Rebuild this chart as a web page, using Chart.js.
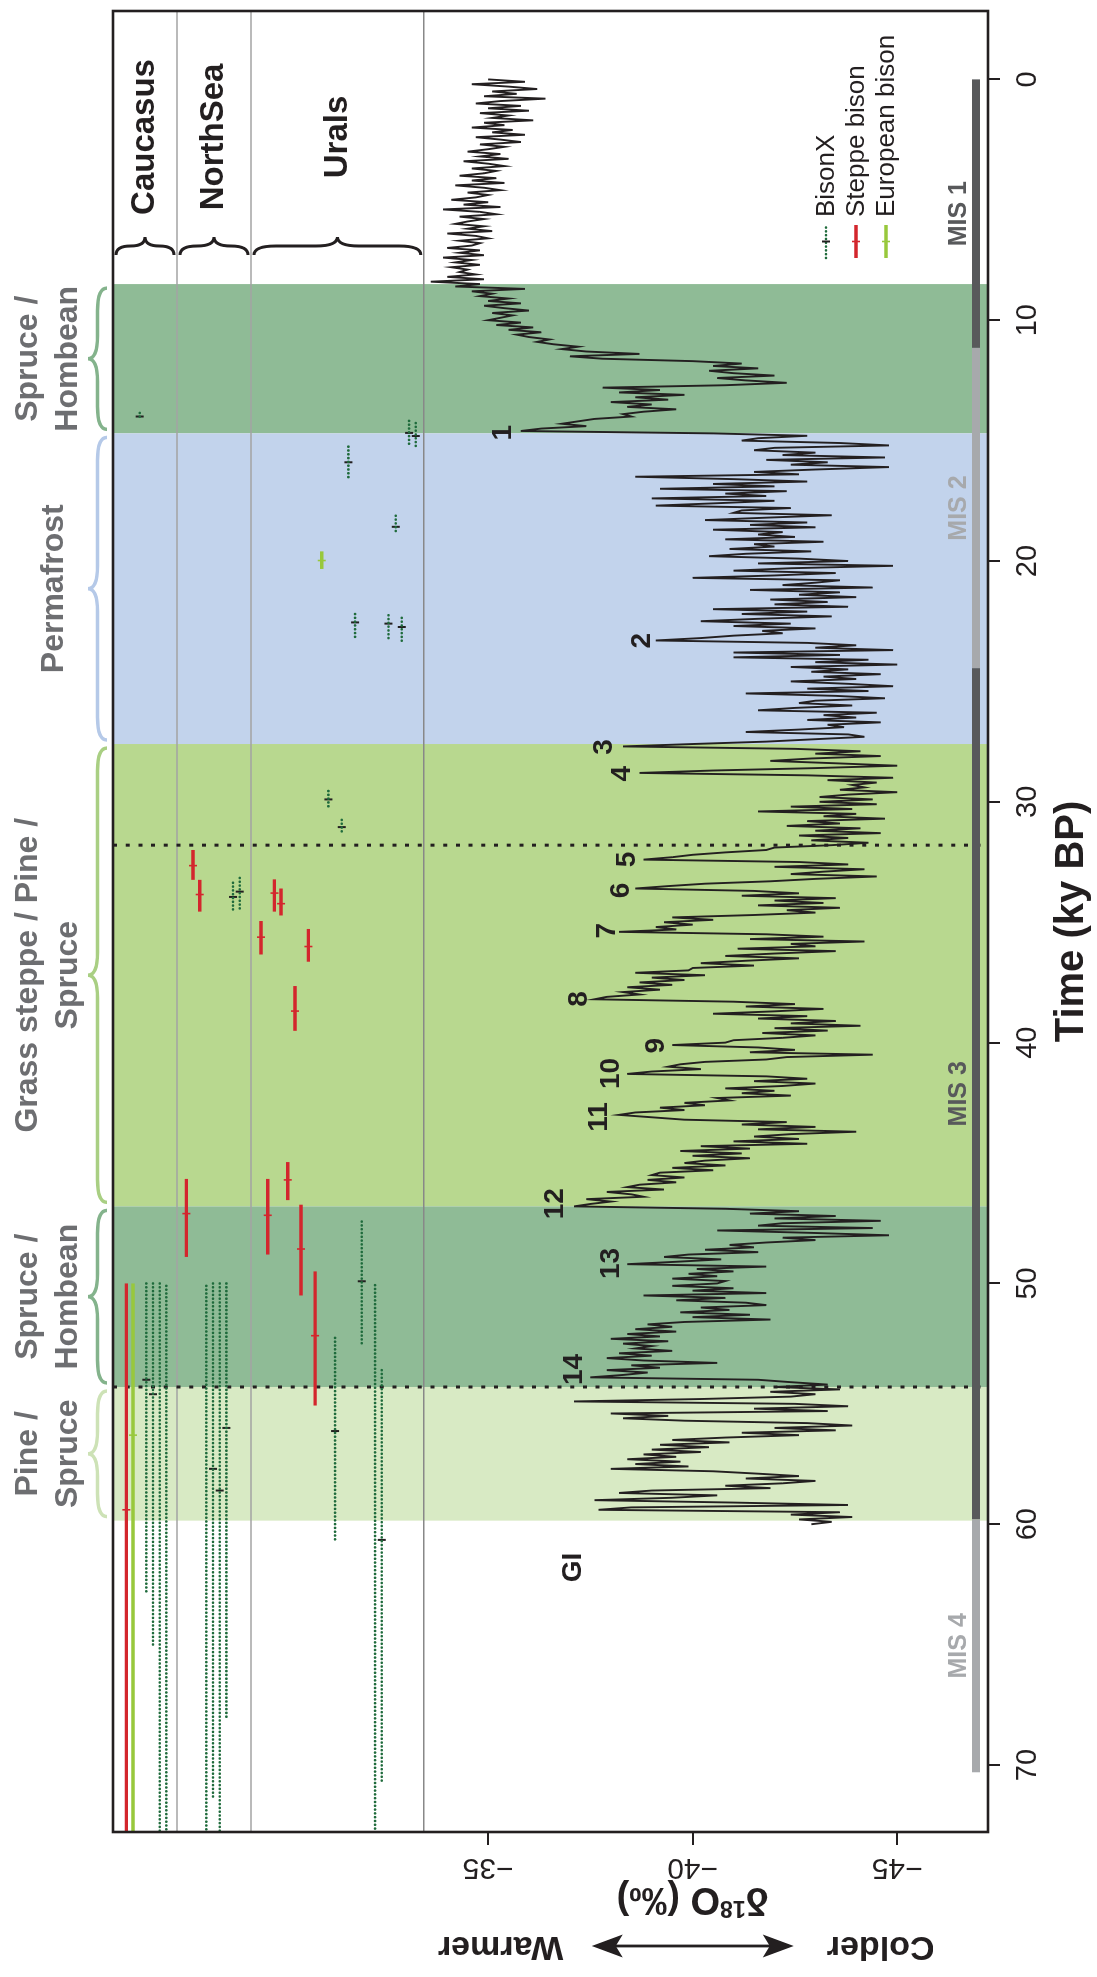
<!DOCTYPE html>
<html>
<head>
<meta charset="utf-8">
<script src="https://cdn.jsdelivr.net/npm/chart.js@4.4.1/dist/chart.umd.min.js"></script>
<style>
  html, body { margin: 0; padding: 0; background: #fff; }
  body { width: 1097px; height: 1977px; overflow: hidden; position: relative; }
  /* the figure is drawn landscape and turned a quarter to the left */
  #wrap { position: absolute; left: 0; top: 0; width: 1977px; height: 1097px;
          transform-origin: 0 0; transform: translate(0, 1977px) rotate(-90deg); }
  canvas { display: block; }
</style>
</head>
<body>
<div id="wrap"><canvas id="bisonChart" width="1977" height="1097" style="width:1977px;height:1097px"></canvas></div>
<script>
const FONT = '"Liberation Sans", Arial, Helvetica, sans-serif';
const INK = '#231f20';

// axes
const timeTicks = [0, 10, 20, 30, 40, 50, 60, 70];
const d18oTicks = [-35, -40, -45];

// vegetation phases (ky BP)
const vegStart = [8.5, 14.7, 27.6, 46.8, 54.3];
const vegEnd = [14.7, 27.6, 46.8, 54.3, 59.85];
const vegLabels = [['Spruce /', 'Hombean'], ['Permafrost'], ['Grass steppe / Pine /', 'Spruce'], ['Spruce /', 'Hombean'], ['Pine /', 'Spruce']];
const dottedTimes = [31.8, 54.3];

// marine isotope stages
const misStart = [0, 11.15, 24.45, 59.8];
const misEnd = [11.15, 24.45, 59.8, 70.3];
const misLabels = ['MIS 1', 'MIS 2', 'MIS 3', 'MIS 4'];

// sampling regions (lane ranges)
const regionNames = ['Caucasus', 'NorthSea', 'Urals'];
const regionStartLane = [0, 9.6, 20.7];
const regionEndLane = [9.6, 20.7, 46.6];

// Greenland interstadial numbers
const giLabels = ['1', '2', '3', '4', '5', '6', '7', '8', '9', '10', '11', '12', '13', '14', 'GI'];
const giTime = [14.67, 23.31, 27.72, 28.83, 32.39, 33.68, 35.35, 38.19, 40.13, 41.28, 43.09, 46.69, 49.17, 53.57, 61.8];
const giD18O = [-35.36, -38.77, -37.84, -38.29, -38.41, -38.25, -37.92, -37.23, -39.1, -38.0, -37.71, -36.63, -38.0, -37.1, -37.08];

// bison dates: lane, type (X = BisonX, S = Steppe bison, E = European bison), age and range (ky BP)
const bisonLane = [4, 2, 3, 5, 6, 7, 8,
  11, 12, 13, 14, 15, 16, 17, 18, 19,
  22.2, 23.2, 24.2, 25.2, 26.2, 27.3, 28.2, 29.3, 30.3, 31.3, 32.3, 33.3, 34.3, 35.3, 36.3, 37.3, 39.3, 40.3, 41.3, 42.4, 43.3, 44.4, 45.4];
const bisonType = ['X', 'S', 'E', 'X', 'X', 'X', 'X',
  'S', 'S', 'S', 'X', 'X', 'X', 'X', 'X', 'X',
  'S', 'S', 'S', 'S', 'S', 'S', 'S', 'S', 'S', 'E', 'X', 'X', 'X', 'X', 'X', 'X', 'X', 'X', 'X', 'X', 'X', 'X', 'X'];
const bisonAge = [14.0, 59.4, 56.3, 54.0, 54.6, null, null,
  47.1, 32.65, 33.85, null, 57.7, 58.6, 56.0, 33.95, 33.73,
  35.62, 47.17, 33.79, 34.23, 45.7, 38.69, 48.57, 36.01, 52.17, 19.98, 29.9, 56.13, 31.05, 15.9, 22.55, 49.91, null, 60.65, 22.6, 18.58, 22.74, 14.68, 14.81];
const bisonLow = [13.85, 50.0, 50.0, 50.0, 50.0, 50.0, 50.1,
  45.66, 32.0, 33.24, 50.1, 50.0, 50.0, 50.0, 33.36, 33.16,
  34.95, 45.66, 33.22, 33.6, 44.96, 37.65, 46.73, 35.28, 49.5, 19.6, 29.55, 52.26, 30.75, 15.25, 22.2, 47.43, 50.07, 53.6, 22.25, 18.12, 22.36, 14.18, 14.27];
const bisonHigh = [14.15, 74, 74, 62.8, 65.1, 74, 74,
  48.9, 33.24, 34.56, 74, 71.35, 74, 68.0, 34.58, 34.56,
  36.34, 48.8, 34.56, 34.72, 46.54, 39.51, 50.5, 36.64, 55.07, 20.33, 30.29, 60.63, 31.3, 16.56, 23.26, 52.57, 74, 70.74, 23.3, 18.86, 23.34, 15.17, 15.25];
const bisonTypes = ['X', 'S', 'E'];
const bisonNames = ['BisonX', 'Steppe bison', 'European bison'];

// Greenland ice core d18O (permil), one value every 0.1 ky
const iceStepKy = 0.1;
const d18o00 = [
  -35.0, -35.9, -34.6, -35.5, -36.2, -35.1, -35.7, -34.9, -36.4, -35.3,
  -34.7, -35.8, -35.0, -36.0, -34.8, -35.5, -35.1, -36.1, -34.9, -35.4,
  -34.6, -35.6, -35.1, -35.9, -34.7, -35.3, -35.8, -34.8, -35.4, -35.0,
  -34.5, -35.3, -34.8, -35.5, -34.4, -35.0, -35.4, -34.6, -35.2, -34.9,
  -34.3, -35.2, -34.6, -35.4, -34.2, -34.9, -35.3, -34.5, -35.0, -34.7,
  -34.1, -35.0, -34.4, -35.3, -33.9, -34.8, -35.2, -34.3, -34.9, -34.5,
  -34.2, -34.9, -34.5, -35.1, -34.0, -34.7, -35.0, -34.3, -34.8, -34.6,
  -34.0, -34.8, -34.3, -34.9, -33.9, -34.6, -34.2, -34.8, -34.1, -34.5,
  -34.3, -34.7, -34.0, -34.9, -33.6, -34.8, -34.2, -35.9, -34.6, -35.1,
  -34.8, -35.5, -35.0, -35.8, -34.9, -35.4, -36.0, -35.1, -35.6, -35.3];
const d18o10 = [
  -35.0, -35.8, -35.2, -36.1, -35.5, -36.3, -35.7, -36.0, -36.5, -36.2,
  -36.6, -37.2, -36.8, -37.4, -38.7, -37.0, -37.8, -40.0, -41.2, -40.5,
  -41.6, -40.4, -41.0, -42.0, -40.6, -41.3, -42.3, -40.8, -37.8, -39.2,
  -38.2, -39.8, -38.6, -39.4, -38.0, -39.0, -38.4, -39.6, -38.8, -38.3,
  -38.5, -37.6, -37.2, -36.8, -37.4, -36.3, -35.8, -40.5, -42.8, -41.6,
  -41.2, -43.6, -44.8, -42.0, -41.5, -43.0, -42.2, -44.7, -41.8, -43.3,
  -42.4, -44.8, -43.0, -41.5, -42.6, -38.6, -41.0, -42.8, -40.5, -42.0,
  -39.2, -42.3, -40.8, -41.8, -39.0, -42.0, -40.6, -39.1, -42.4, -41.2,
  -41.0, -43.4, -41.8, -40.3, -42.8, -41.4, -43.0, -40.5, -42.2, -41.6,
  -42.5, -40.8, -43.2, -41.5, -42.0, -40.9, -42.9, -41.3, -40.4, -42.6];
const d18o20 = [
  -43.8, -41.6, -44.9, -42.4, -41.0, -43.5, -42.0, -40.0, -43.6, -43.0,
  -42.2, -44.4, -41.4, -43.6, -42.6, -44.0, -41.9, -43.3, -42.0, -43.8,
  -40.5, -42.8, -41.2, -43.4, -41.6, -40.2, -42.4, -41.0, -43.0, -41.7,
  -42.2, -41.0, -40.2, -39.1, -42.8, -44.0, -43.0, -44.9, -41.0, -43.6,
  -41.0, -44.3, -43.0, -45.0, -42.4, -43.8, -42.9, -44.6, -43.2, -44.0,
  -42.4, -43.8, -44.9, -42.8, -44.3, -41.3, -43.5, -44.7, -43.0, -42.6,
  -43.9, -42.5, -41.6, -44.5, -43.2, -44.0, -42.8, -44.6, -43.3, -43.7,
  -42.6, -41.3, -43.8, -44.2, -43.0, -41.8, -40.0, -38.3, -42.5, -44.1,
  -43.0, -44.6, -42.9, -41.9, -43.5, -45.0, -43.0, -40.5, -38.7, -42.8,
  -44.9, -43.3, -44.5, -43.9, -44.2, -43.6, -45.0, -43.8, -43.1, -44.4];
const d18o30 = [
  -43.1, -44.5, -42.4, -43.9, -41.6, -44.0, -43.2, -44.7, -42.8, -43.6,
  -42.3, -44.1, -43.0, -44.6, -42.6, -43.8, -42.9, -44.3, -43.4, -42.0,
  -41.8, -40.8, -40.0, -39.5, -38.8, -42.6, -43.8, -42.0, -44.2, -43.2,
  -42.4, -44.5, -43.0, -41.9, -40.3, -39.4, -38.6, -41.5, -42.6, -41.2,
  -43.5, -42.0, -43.2, -41.6, -43.6, -42.3, -43.0, -41.5, -39.5, -40.5,
  -39.3, -40.0, -39.1, -39.6, -38.2, -41.8, -43.2, -41.4, -44.2, -42.4,
  -43.0, -41.1, -43.5, -42.0, -40.8, -42.6, -41.3, -40.2, -41.5, -40.0,
  -39.9, -38.6, -40.3, -39.0, -39.8, -38.7, -39.5, -38.4, -39.2, -38.3,
  -38.7, -37.9, -37.6, -41.0, -42.5, -41.3, -43.2, -42.0, -40.5, -42.8,
  -41.6, -43.5, -42.4, -44.1, -42.0, -43.3, -41.7, -43.0, -42.2, -41.0];
const d18o40 = [
  -40.8, -39.5, -41.6, -42.5, -41.4, -44.4, -42.3, -41.8, -40.3, -39.7,
  -39.4, -40.2, -39.0, -38.4, -41.8, -42.8, -41.5, -43.0, -42.2, -40.8,
  -42.0, -41.2, -42.4, -40.6, -40.9, -39.8, -40.3, -39.2, -39.8, -38.6,
  -38.2, -39.0, -39.8, -42.3, -41.2, -43.0, -41.6, -44.0, -42.4, -41.5,
  -42.6, -41.0, -42.8, -40.2, -41.4, -39.7, -41.2, -40.0, -41.4, -40.3,
  -39.8, -40.8, -39.5, -40.5, -39.2, -39.0, -39.8, -38.9, -39.6, -38.7,
  -38.4, -39.3, -37.9, -38.5, -38.8, -37.4, -38.0, -37.5, -37.1, -40.8,
  -42.6, -41.4, -43.5, -42.0, -44.6, -42.2, -41.6, -44.4, -40.6, -42.9,
  -44.8, -42.2, -43.0, -41.8, -40.9, -41.5, -40.3, -41.6, -39.9, -39.3,
  -40.7, -39.6, -38.4, -41.8, -40.1, -41.0, -39.9, -40.6, -39.5, -40.8];
const d18o50 = [
  -40.6, -39.5, -41.0, -40.0, -41.8, -38.8, -40.8, -39.6, -41.3, -41.8,
  -40.2, -40.9, -39.7, -41.4, -40.0, -41.9, -39.8, -38.9, -39.5, -38.6,
  -39.6, -38.4, -39.2, -38.0, -39.4, -38.3, -39.0, -38.6, -39.5, -38.2,
  -39.0, -37.9, -38.8, -40.6, -38.5, -39.2, -37.9, -38.9, -38.3, -37.5,
  -41.6, -42.4, -43.3, -42.0, -43.6, -41.9, -43.0, -42.4, -40.2, -37.1,
  -42.5, -43.8, -41.5, -43.3, -38.0, -39.4, -38.3, -39.8, -42.8, -43.9,
  -42.0, -43.5, -41.2, -42.6, -40.8, -39.5, -40.9, -39.2, -40.4, -39.0,
  -40.2, -38.8, -39.6, -38.4, -39.7, -38.6, -39.9, -38.0, -40.5, -41.6,
  -42.6, -41.3, -43.0, -42.2, -40.8, -41.9, -39.0, -38.2, -40.6, -39.5,
  -37.6, -41.0, -43.8, -38.5, -37.7, -43.6, -42.4, -43.9, -42.6, -43.4,
  -42.9];
const iceChunks = [d18o00, d18o10, d18o20, d18o30, d18o40, d18o50];
const iceChunkStart = [0, 10, 20, 30, 40, 50];

// ---- build datasets ----
const iceCurve = [];
iceChunks.forEach((chunk, c) => {
  chunk.forEach((v, i) => {
    iceCurve.push({ x: +(iceChunkStart[c] + i * iceStepKy).toFixed(2), y: v });
  });
});

const typeStyle = {
  X: { color: '#1f6b3c', width: 2.6, dash: [0.1, 3.7], cap: 'round', tick: INK, tickWidth: 2 },
  S: { color: '#d3262d', width: 3.4, dash: [], cap: 'butt', tick: '#d3262d', tickWidth: 1.6 },
  E: { color: '#98c83c', width: 3.4, dash: [], cap: 'butt', tick: '#98c83c', tickWidth: 1.6 }
};

function rangeData(type) {
  const pts = [];
  bisonLane.forEach((lane, i) => {
    if (bisonType[i] !== type) return;
    pts.push({ x: bisonLow[i], y: lane }, { x: bisonHigh[i], y: lane }, { x: bisonHigh[i], y: null });
  });
  return pts;
}
function ageData(type) {
  const pts = [];
  bisonLane.forEach((lane, i) => {
    if (bisonType[i] === type && bisonAge[i] !== null) pts.push({ x: bisonAge[i], y: lane });
  });
  return pts;
}

const datasets = [{
  type: 'line', label: 'd18O', data: iceCurve, xAxisID: 'x', yAxisID: 'y',
  borderColor: INK, borderWidth: 1.9, pointRadius: 0, tension: 0, fill: false
}];
bisonTypes.forEach(t => {
  const st = typeStyle[t];
  datasets.push({
    type: 'line', label: t + ' range', data: rangeData(t), xAxisID: 'x', yAxisID: 'lane',
    borderColor: st.color, borderWidth: st.width, borderDash: st.dash, borderCapStyle: st.cap,
    pointRadius: 0, spanGaps: false, fill: false
  });
});
bisonTypes.forEach(t => {
  const st = typeStyle[t];
  datasets.push({
    type: 'scatter', label: t + ' age', data: ageData(t), xAxisID: 'x', yAxisID: 'lane',
    pointStyle: 'line', rotation: 90, pointRadius: 4, borderColor: st.tick, borderWidth: st.tickWidth,
    showLine: false
  });
});

// ---- drawing helpers ----
const vegFill = ['#8fbb96', '#c2d3ec', '#b8d88f', '#8fbb96', '#d8eac4'];
const vegBrace = ['#84b38c', '#b5c9e8', '#a9cf83', '#84b38c', '#cde2b6'];
const misColor = ['#58595b', '#a7a9ac', '#58595b', '#a7a9ac'];

function hBrace(ctx, x1, x2, yBase, yTip) {
  const xm = (x1 + x2) / 2, ym = (yBase + yTip) / 2;
  const q = Math.min(Math.abs(yBase - yTip) * 1.2, (x2 - x1) / 4);
  ctx.beginPath();
  ctx.moveTo(x1, yBase);
  ctx.quadraticCurveTo(x1, ym, x1 + q, ym);
  ctx.lineTo(xm - q, ym);
  ctx.quadraticCurveTo(xm, ym, xm, yTip);
  ctx.quadraticCurveTo(xm, ym, xm + q, ym);
  ctx.lineTo(x2 - q, ym);
  ctx.quadraticCurveTo(x2, ym, x2, yBase);
  ctx.stroke();
}
function vBrace(ctx, y1, y2, xBase, xTip) {
  const ym = (y1 + y2) / 2, xm = (xBase + xTip) / 2;
  const q = Math.min(Math.abs(xBase - xTip) * 1.2, (y2 - y1) / 4);
  ctx.beginPath();
  ctx.moveTo(xBase, y1);
  ctx.quadraticCurveTo(xm, y1, xm, y1 + q);
  ctx.lineTo(xm, ym - q);
  ctx.quadraticCurveTo(xm, ym, xTip, ym);
  ctx.quadraticCurveTo(xm, ym, xm, ym + q);
  ctx.lineTo(xm, y2 - q);
  ctx.quadraticCurveTo(xm, y2, xBase, y2);
  ctx.stroke();
}

const figurePlugin = {
  id: 'figure',
  beforeDatasetsDraw(chart) {
    const { ctx, chartArea: a, scales: { x, lane } } = chart;
    ctx.save();
    ctx.beginPath(); ctx.rect(a.left, a.top, a.width, a.height); ctx.clip();
    vegStart.forEach((s, i) => {
      const p1 = x.getPixelForValue(s), p2 = x.getPixelForValue(vegEnd[i]);
      ctx.fillStyle = vegFill[i];
      ctx.fillRect(Math.min(p1, p2), a.top, Math.abs(p1 - p2), a.height);
    });
    regionEndLane.forEach((l, i) => {
      const py = lane.getPixelForValue(l);
      ctx.strokeStyle = i < 2 ? '#a3a3a3' : '#888888';
      ctx.lineWidth = 1.6;
      ctx.beginPath(); ctx.moveTo(a.left, py); ctx.lineTo(a.right, py); ctx.stroke();
    });
    ctx.setLineDash([4, 8.7]);
    ctx.lineWidth = 3;
    ctx.strokeStyle = INK;
    dottedTimes.forEach(t => {
      const px = x.getPixelForValue(t);
      ctx.beginPath(); ctx.moveTo(px, a.top); ctx.lineTo(px, a.bottom); ctx.stroke();
    });
    ctx.restore();
  },
  afterDatasetsDraw(chart) {
    const { ctx, chartArea: a, scales: { x, y, lane } } = chart;
    ctx.save();

    // MIS bar
    misStart.forEach((s, i) => {
      const p1 = x.getPixelForValue(s), p2 = x.getPixelForValue(misEnd[i]);
      ctx.fillStyle = misColor[i];
      ctx.fillRect(Math.min(p1, p2), a.bottom - 16, Math.abs(p1 - p2), 8);
      ctx.font = 'bold 25px ' + FONT;
      ctx.textAlign = 'center'; ctx.textBaseline = 'middle';
      ctx.fillText(misLabels[i], (p1 + p2) / 2, a.bottom - 29);
    });

    // frame
    ctx.strokeStyle = INK; ctx.lineWidth = 2.6;
    ctx.strokeRect(a.left, a.top, a.width, a.height);

    // regions
    regionNames.forEach((n, i) => {
      const y1 = lane.getPixelForValue(regionStartLane[i]), y2 = lane.getPixelForValue(regionEndLane[i]);
      ctx.fillStyle = INK;
      ctx.font = 'bold 33px ' + FONT;
      ctx.textAlign = 'center'; ctx.textBaseline = 'middle';
      ctx.fillText(n, a.right - 126, (y1 + y2) / 2);
      ctx.strokeStyle = INK; ctx.lineWidth = 3;
      vBrace(ctx, y1 + 3, y2 - 3, a.right - 244, a.right - 226);
    });

    // vegetation labels
    vegLabels.forEach((lines, i) => {
      const p1 = x.getPixelForValue(vegStart[i]), p2 = x.getPixelForValue(vegEnd[i]);
      const cx = (p1 + p2) / 2;
      ctx.fillStyle = '#6d6e71';
      ctx.font = 'bold 32px ' + FONT;
      ctx.textAlign = 'center'; ctx.textBaseline = 'alphabetic';
      const bases = lines.length === 2 ? [a.top - 76, a.top - 36] : [a.top - 50];
      lines.forEach((t, j) => ctx.fillText(t, cx, bases[j]));
      ctx.strokeStyle = vegBrace[i]; ctx.lineWidth = 3.5;
      hBrace(ctx, Math.min(p1, p2) + 4, Math.max(p1, p2) - 4, a.top - 6, a.top - 25);
    });

    // interstadial numbers
    ctx.fillStyle = INK;
    ctx.font = 'bold 28px ' + FONT;
    ctx.textAlign = 'center'; ctx.textBaseline = 'middle';
    giLabels.forEach((t, i) => ctx.fillText(t, x.getPixelForValue(giTime[i]), y.getPixelForValue(giD18O[i])));

    // legend
    bisonTypes.forEach((t, i) => {
      const st = typeStyle[t];
      const ly = a.bottom - 162 + 30 * i;
      const lx1 = a.right - 247, lx2 = a.right - 214;
      ctx.save();
      ctx.strokeStyle = st.color; ctx.lineWidth = st.width;
      ctx.setLineDash(st.dash); ctx.lineCap = st.cap;
      ctx.beginPath(); ctx.moveTo(lx1, ly); ctx.lineTo(lx2, ly); ctx.stroke();
      ctx.restore();
      ctx.strokeStyle = st.tick; ctx.lineWidth = st.tickWidth;
      ctx.beginPath(); ctx.moveTo((lx1 + lx2) / 2, ly - 4); ctx.lineTo((lx1 + lx2) / 2, ly + 4); ctx.stroke();
      ctx.fillStyle = INK;
      ctx.font = '26px ' + FONT;
      ctx.textAlign = 'left'; ctx.textBaseline = 'middle';
      ctx.fillText(bisonNames[i], a.right - 206, ly + 1);
    });

    // d18O axis labels, turned like the original y axis
    ctx.fillStyle = INK;
    y.ticks.forEach(tk => {
      ctx.save();
      ctx.translate(a.left - 35, y.getPixelForValue(tk.value));
      ctx.rotate(-Math.PI / 2);
      ctx.font = '30px ' + FONT;
      ctx.textAlign = 'center'; ctx.textBaseline = 'middle';
      ctx.fillText(String(tk.value).replace('-', '\u2212'), 0, 0);
      ctx.restore();
    });

    const cy = y.getPixelForValue(d18oTicks[1]);
    ctx.save();
    ctx.translate(a.left - 69, cy);
    ctx.rotate(-Math.PI / 2);
    ctx.textBaseline = 'alphabetic';
    const big = 'bold 38px ' + FONT, small = 'bold 23px ' + FONT;
    ctx.font = big; const w1 = ctx.measureText('\u03b4').width;
    ctx.font = small; const w2 = ctx.measureText('18').width;
    ctx.font = big; const w3 = ctx.measureText('O (\u2030)').width;
    let sx = -(w1 + w2 + w3) / 2;
    ctx.textAlign = 'left';
    ctx.font = big; ctx.fillText('\u03b4', sx, 13); sx += w1;
    ctx.font = small; ctx.fillText('18', sx, 0); sx += w2;
    ctx.font = big; ctx.fillText('O (\u2030)', sx, 13);
    ctx.restore();

    ctx.save();
    ctx.translate(a.left - 114, cy);
    ctx.rotate(-Math.PI / 2);
    ctx.font = 'bold 34px ' + FONT;
    ctx.textAlign = 'center'; ctx.textBaseline = 'middle';
    ctx.fillText('Colder', -188, 0);
    ctx.fillText('Warmer', 192, 0);
    ctx.strokeStyle = INK; ctx.lineWidth = 2.8;
    ctx.beginPath(); ctx.moveTo(-80, 0); ctx.lineTo(80, 0); ctx.stroke();
    [[-101, 1], [101, -1]].forEach(([tip, dir]) => {
      ctx.beginPath();
      ctx.moveTo(tip, 0);
      ctx.lineTo(tip + dir * 31, -11.5);
      ctx.lineTo(tip + dir * 24, 0);
      ctx.lineTo(tip + dir * 31, 11.5);
      ctx.closePath();
      ctx.fill();
    });
    ctx.restore();

    ctx.restore();
  }
};

new Chart(document.getElementById('bisonChart'), {
  type: 'line',
  data: { datasets: datasets },
  options: {
    responsive: false,
    devicePixelRatio: 1,
    animation: false,
    events: [],
    layout: { padding: { top: 113, right: 11, bottom: 0, left: 0 } },
    plugins: { legend: { display: false }, tooltip: { enabled: false } },
    scales: {
      x: {
        type: 'linear', position: 'bottom', min: -2.84, max: 72.78, reverse: true,
        afterBuildTicks: s => { s.ticks = timeTicks.map(v => ({ value: v })); },
        afterFit: s => { s.height = 109; },
        ticks: { autoSkip: false, maxRotation: 0, minRotation: 0, padding: 11, color: INK,
                 font: { family: FONT, size: 29 } },
        grid: { drawOnChartArea: false, drawTicks: true, tickLength: 12, color: INK, lineWidth: 2 },
        border: { display: false },
        title: { display: true, text: 'Time (ky BP)', color: INK,
                 font: { family: FONT, size: 40, weight: 'bold' }, padding: { top: 0, bottom: 1 } }
      },
      y: {
        type: 'linear', position: 'left', min: -47.22, max: -25.83,
        afterBuildTicks: s => { s.ticks = d18oTicks.map(v => ({ value: v })); },
        afterFit: s => { s.width = 145; },
        ticks: { display: false },
        grid: { drawOnChartArea: false, drawTicks: true, tickLength: 13, color: INK, lineWidth: 2 },
        border: { display: false }
      },
      lane: {
        type: 'linear', position: 'left', display: false, min: 0, max: 131.2, reverse: true
      }
    }
  },
  plugins: [figurePlugin]
});
</script>
</body>
</html>
